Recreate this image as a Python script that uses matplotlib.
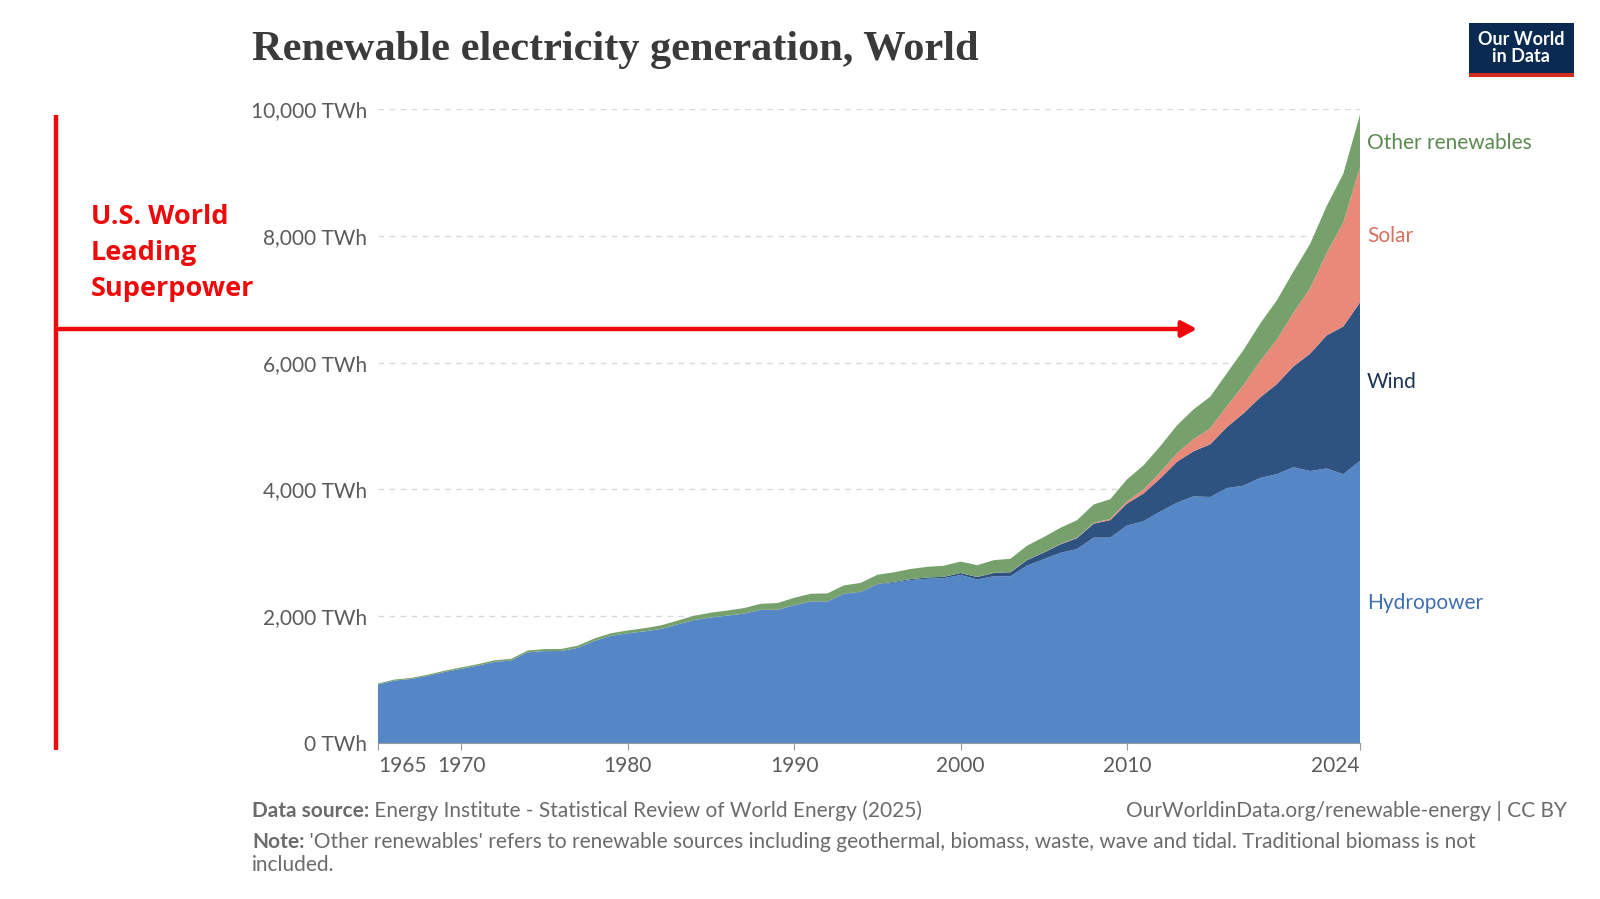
import numpy as np
import matplotlib.pyplot as plt
from matplotlib.patches import Rectangle, FancyArrowPatch
from matplotlib.lines import Line2D

# Data (TWh)
years = list(range(1965, 2025))
hydro = [924, 985, 1010, 1060, 1120, 1170, 1220, 1280, 1300, 1430,
         1450, 1450, 1500, 1610, 1690, 1730, 1760, 1800, 1870, 1940,
         1980, 2010, 2040, 2100, 2100, 2170, 2230, 2230, 2350, 2380,
         2500, 2530, 2570, 2590, 2600, 2650, 2580, 2630, 2630, 2800,
         2900, 3000, 3060, 3240, 3240, 3430, 3500, 3650, 3790, 3890,
         3880, 4020, 4060, 4180, 4240, 4350, 4290, 4330, 4240, 4450]
wind = [0, 0, 0, 0, 0, 0, 0, 0, 0, 0,
        0, 0, 0, 0, 0, 0, 0, 0, 0, 0,
        0, 0, 1, 1, 2, 4, 4, 5, 6, 7,
        8, 12, 15, 21, 21, 31, 38, 52, 63, 85,
        104, 133, 171, 220, 276, 346, 437, 523, 645, 712,
        831, 962, 1140, 1270, 1420, 1590, 1850, 2100, 2330, 2500]
solar = [0, 0, 0, 0, 0, 0, 0, 0, 0, 0,
         0, 0, 0, 0, 0, 0, 0, 0, 0, 0,
         0, 0, 0, 0, 0, 0, 0, 0, 0, 0,
         0, 0, 0, 0, 0, 1, 1.5, 2, 2.5, 3,
         4, 6, 8, 12, 20, 32, 63, 98, 134, 190,
         251, 329, 444, 575, 700, 846, 1030, 1300, 1640, 2130]
other = [15, 16, 17, 18, 20, 22, 23, 25, 27, 29,
         31, 33, 35, 38, 41, 45, 50, 55, 60, 68,
         75, 80, 88, 95, 105, 115, 120, 125, 130, 138,
         145, 150, 160, 168, 175, 180, 185, 200, 210, 225,
         240, 255, 275, 290, 310, 350, 380, 410, 440, 470,
         500, 520, 555, 590, 620, 650, 700, 740, 770, 830]

series_names = ["Hydropower", "Wind", "Solar", "Other renewables"]
colors = ["#5587c7", "#2f5380", "#e8897a", "#76a06c"]
label_colors = ["#3f6fb1", "#1c3557", "#d8705f", "#5b8a50"]

y_ticks = [0, 2000, 4000, 6000, 8000, 10000]
x_ticks = [1965, 1970, 1980, 1990, 2000, 2010, 2024]

W, H = 1600, 899
fig = plt.figure(figsize=(W / 100, H / 100), dpi=100)

def fx(px):
    return px / W

def fy(py):
    return 1 - py / H

left, right, top, bottom = 378, 1360, 109, 743
ax = fig.add_axes([fx(left), fy(bottom), fx(right - left), (bottom - top) / H])

ax.stackplot(years, hydro, wind, solar, other, colors=colors, lw=0)
ax.set_xlim(1965, 2024)
ax.set_ylim(0, 10000)

ax.set_yticks(y_ticks)
ax.set_yticklabels([f"{v:,} TWh" for v in y_ticks], family="Lato", fontsize=15, color="#5b5b5b")
ax.tick_params(axis="y", length=0, pad=8)
ax.grid(axis="y", color="#d9d9d9", ls=(0, (4, 4)), lw=1)
ax.set_axisbelow(True)

ax.set_xticks(x_ticks)
ax.set_xticklabels([str(v) for v in x_ticks], family="Lato", fontsize=15, color="#5b5b5b")
ax.tick_params(axis="x", length=5, color="#999999", pad=4)
xl = ax.get_xticklabels()
xl[0].set_ha("left")
xl[-1].set_ha("right")

for s in ["top", "right", "left"]:
    ax.spines[s].set_visible(False)
ax.spines["bottom"].set_color("#999999")
ax.spines["bottom"].set_linewidth(0.8)

# end labels
label_y = [603, 382, 236, 143]
for name, c, py in zip(series_names, label_colors, label_y):
    fig.text(fx(1367), fy(py), name, family="Lato", fontsize=15, color=c, va="center", ha="left")

# title
fig.text(fx(252), fy(50), "Renewable electricity generation, World", family="Liberation Serif",
         fontweight="bold", fontsize=30.5, color="#3a3a3a", va="center", ha="left")

# logo
fig.patches.append(Rectangle((fx(1469), fy(77)), fx(105), (77 - 23) / H, transform=fig.transFigure,
                             facecolor="#0b2a52", edgecolor="none"))
fig.patches.append(Rectangle((fx(1469), fy(77)), fx(105), 4 / H, transform=fig.transFigure,
                             facecolor="#d42b21", edgecolor="none"))
fig.text(fx(1521), fy(48), "Our World\nin Data", family="Lato", fontweight="bold", fontsize=13,
         color="white", ha="center", va="center", linespacing=0.95)

# footer
grey = "#6b6b6b"
fs = 15
src_b = fig.text(fx(252), fy(821), "Data source:", family="Lato", fontweight="bold", fontsize=fs,
                 color=grey, ha="left", va="bottom")
ax.annotate(" Energy Institute - Statistical Review of World Energy (2025)", xy=(1, 0), xycoords=src_b,
            family="Lato", fontsize=fs, color=grey, ha="left", va="bottom", annotation_clip=False)
fig.text(fx(1567), fy(821), "OurWorldinData.org/renewable-energy | CC BY", family="Lato", fontsize=fs,
         color=grey, ha="right", va="bottom")
note_b = fig.text(fx(252), fy(852), "Note:", family="Lato", fontweight="bold", fontsize=fs,
                  color=grey, ha="left", va="bottom")
ax.annotate(" 'Other renewables' refers to renewable sources including geothermal, biomass, waste, wave and tidal. Traditional biomass is not",
            xy=(1, 0), xycoords=note_b, family="Lato", fontsize=fs, color=grey,
            ha="left", va="bottom", annotation_clip=False)
fig.text(fx(252), fy(875), "included.", family="Lato", fontsize=fs, color=grey, ha="left", va="bottom")

# red annotation
red = "#ee0a0a"
fig.add_artist(Line2D([fx(56), fx(56)], [fy(115), fy(750)], color=red, lw=3.2,
                      transform=fig.transFigure, solid_capstyle="butt"))
fig.add_artist(FancyArrowPatch((fx(56), fy(329)), (fx(1197), fy(329)), transform=fig.transFigure,
                               arrowstyle="-|>,head_length=9,head_width=4.8", mutation_scale=1,
                               color=red, lw=3.2, shrinkA=0, shrinkB=0))
for txt, py in [("U.S. World", 217), ("Leading", 253), ("Superpower", 289)]:
    fig.text(fx(91), fy(py), txt, family="Open Sans", fontweight="bold", fontsize=19.5, color=red,
             ha="left", va="center")

fig.savefig("out.png", dpi=100, facecolor="white")
